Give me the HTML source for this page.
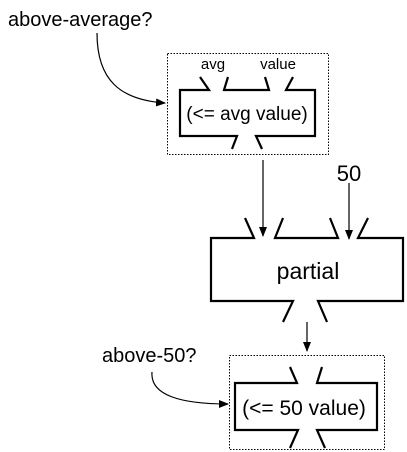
<!DOCTYPE html>
<html><head><style>body{margin:0;background:#fff}svg{display:block}text{font-family:"Liberation Sans",sans-serif;fill:#000}</style></head>
<body>
<svg width="407" height="452" viewBox="0 0 407 452">
<defs><marker id="a" markerWidth="10" markerHeight="8" refX="9" refY="4" orient="auto" markerUnits="userSpaceOnUse"><path d="M0,0L10,4L0,8z"/></marker></defs>
<text x="8" y="26" font-size="20">above-average?</text>
<path d="M97,33 C97,80 120,100 165,103" fill="none" stroke="#000" stroke-width="1.2" marker-end="url(#a)"/>
<rect x="167.5" y="53.5" width="161" height="101" fill="none" stroke="#000" stroke-dasharray="1.5,1.5"/>
<text x="213" y="69" font-size="15" text-anchor="middle">avg</text>
<text x="278" y="69" font-size="15" text-anchor="middle">value</text>
<g fill="none" stroke="#000" stroke-width="2.2">
<path d="M200,77L209,90H180V136H237L232,149M262,149L256,136H315V90H286L293,77M265,77L269,90H224L228,77"/>
<path d="M245,218L254,238H211V301H293L283,322M327,322L318,301H403V238H358L368,218M330,218L338,238H275L283,218"/>
<path d="M290,367L297,383H235V430H298L290,448M325,448L317,430H377V383H317L322,367"/>
</g>
<text x="247" y="120" font-size="19" text-anchor="middle">(&lt;= avg value)</text>
<line x1="263" y1="160" x2="263" y2="236" stroke="#000" stroke-width="1.2" marker-end="url(#a)"/>
<text x="349" y="181" font-size="22" text-anchor="middle">50</text>
<line x1="349" y1="183" x2="349" y2="239" stroke="#000" stroke-width="1.2" marker-end="url(#a)"/>
<text x="308" y="279" font-size="23" text-anchor="middle">partial</text>
<line x1="307" y1="322" x2="307" y2="351" stroke="#000" stroke-width="1.2" marker-end="url(#a)"/>
<rect x="229.5" y="355.5" width="155" height="94" fill="none" stroke="#000" stroke-dasharray="1.5,1.5"/>
<text x="304" y="415" font-size="21" text-anchor="middle">(&lt;= 50 value)</text>
<text x="102" y="362" font-size="20">above-50?</text>
<path d="M152,372 C150,395 180,404 228,404" fill="none" stroke="#000" stroke-width="1.2" marker-end="url(#a)"/>
</svg>
</body></html>
